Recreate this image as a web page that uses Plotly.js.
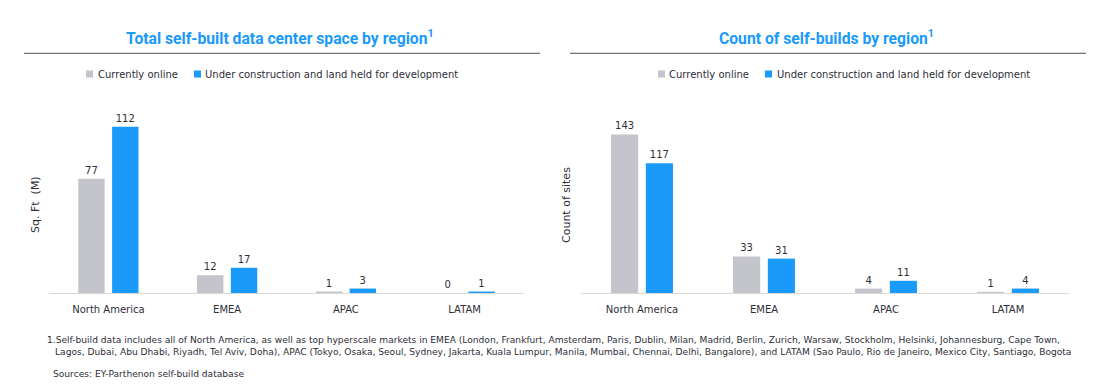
<!DOCTYPE html>
<html><head><meta charset="utf-8">
<script src="https://cdn.plot.ly/plotly-3.0.1.min.js"></script>
<style>html,body{margin:0;padding:0;background:#fff}</style>
</head><body><div id="chart" style="width:1110px;height:387px"></div>
<script>
const regions = ["North America", "EMEA", "APAC", "LATAM"];
const seriesNames = ["Currently online", "Under construction and land held for development"];
const spaceOnline = [77, 12, 1, 0];
const spaceDev = [112, 17, 3, 1];
const countOnline = [143, 33, 4, 1];
const countDev = [117, 31, 11, 4];
const leftTitle = "Total self-built data center space by region<sup>1</sup>";
const rightTitle = "Count of self-builds by region<sup>1</sup>";
const leftYTitle = "Sq. Ft  (M)";
const rightYTitle = "Count of sites";
const footLine1 = "1.Self-build data includes all of North America, as well as top hyperscale markets in EMEA (London, Frankfurt, Amsterdam, Paris, Dublin, Milan, Madrid, Berlin, Zurich, Warsaw, Stockholm, Helsinki, Johannesburg, Cape Town,";
const footLine2 = "Lagos, Dubai, Abu Dhabi, Riyadh, Tel Aviv, Doha), APAC (Tokyo, Osaka, Seoul, Sydney, Jakarta, Kuala Lumpur, Manila, Mumbai, Chennai, Delhi, Bangalore), and LATAM (Sao Paulo, Rio de Janeiro, Mexico City, Santiago, Bogota";
const sourceText = "Sources: EY-Parthenon self-build database";

const GREY = "#c4c4cd", BLUE = "#1a9afa", TXT = "#2e2e38", FONT = "DejaVu Sans";
const W = 1110, H = 387;
const px = v => v / W, py = v => (H - v) / H;

function bar(x, y, name, color, xa, ya) {
  return {type: "bar", x, y, name, xaxis: xa, yaxis: ya, showlegend: false,
    marker: {color}, texttemplate: "%{y}", textposition: "outside", cliponaxis: false,
    constraintext: "none", textfont: {family: FONT, size: 10, color: TXT}, hoverinfo: "skip"};
}
const data = [
  bar(regions, spaceOnline, seriesNames[0], GREY, "x", "y"),
  bar(regions, spaceDev, seriesNames[1], BLUE, "x", "y"),
  bar(regions, countOnline, seriesNames[0], GREY, "x2", "y2"),
  bar(regions, countDev, seriesNames[1], BLUE, "x2", "y2")
];
const xbase = {type: "category", showline: true, linecolor: "#d9d9d9", linewidth: 1, ticks: "",
  showgrid: false, zeroline: false, tickfont: {family: FONT, size: 10, color: TXT}, fixedrange: true,
  ticklabelstandoff: 7};
const ybase = {showticklabels: false, showgrid: false, zeroline: false, showline: false, ticks: "", fixedrange: true,
  domain: [py(293), py(100)]};

function legendItems(x0, textX0, x1, textX1) {
  const cy = 74, s = 7;
  const shapes = [
    {type: "rect", xref: "paper", yref: "paper", x0: px(x0), x1: px(x0 + s), y0: py(cy + s / 2), y1: py(cy - s / 2), fillcolor: GREY, line: {width: 0}},
    {type: "rect", xref: "paper", yref: "paper", x0: px(x1), x1: px(x1 + s), y0: py(cy + s / 2), y1: py(cy - s / 2), fillcolor: BLUE, line: {width: 0}}
  ];
  const anns = [
    {text: seriesNames[0], xref: "paper", yref: "paper", x: px(textX0), y: py(cy), xanchor: "left", yanchor: "middle", showarrow: false,
      font: {family: FONT, size: 10, color: TXT}},
    {text: seriesNames[1], xref: "paper", yref: "paper", x: px(textX1), y: py(cy), xanchor: "left", yanchor: "middle", showarrow: false,
      font: {family: FONT, size: 10, color: TXT}}
  ];
  return {shapes, anns};
}
const lg1 = legendItems(86, 96, 194, 203);
const lg2 = legendItems(658, 667, 765, 775);

function ann(text, x, y, xanchor, font, extra) {
  return Object.assign({text, xref: "paper", yref: "paper", x: px(x), y: py(y), xanchor, yanchor: "middle", showarrow: false, font}, extra || {});
}
const titleFont = {family: "Roboto", size: 15.7, color: BLUE};
const footFont = {family: FONT, size: 9.1, color: TXT};
const yTitleFont = {family: FONT, size: 11, color: TXT};

const layout = {
  width: W, height: H, margin: {l: 0, r: 0, t: 0, b: 0}, paper_bgcolor: "#fff", plot_bgcolor: "#fff",
  showlegend: false,
  barmode: "group", bargap: 0.43, bargroupgap: 0.22,
  xaxis: Object.assign({}, xbase, {domain: [px(49), px(524)], anchor: "y"}),
  yaxis: Object.assign({}, ybase, {range: [0, 130], anchor: "x"}),
  xaxis2: Object.assign({}, xbase, {domain: [px(581), px(1069)], anchor: "y2"}),
  yaxis2: Object.assign({}, ybase, {range: [0, 174], anchor: "x2"}),
  shapes: [
    {type: "line", xref: "paper", yref: "paper", x0: px(24), x1: px(540), y0: py(53.3), y1: py(53.3), line: {color: "#747480", width: 1.2}},
    {type: "line", xref: "paper", yref: "paper", x0: px(570), x1: px(1086), y0: py(53.3), y1: py(53.3), line: {color: "#747480", width: 1.2}}
  ].concat(lg1.shapes, lg2.shapes),
  annotations: [
    ann("<b>" + leftTitle + "</b>", 280.5, 37, "center", titleFont),
    ann("<b>" + rightTitle + "</b>", 826.5, 37, "center", titleFont),
    ann(leftYTitle, 35, 205, "center", yTitleFont, {textangle: -90}),
    ann(rightYTitle, 566, 205, "center", yTitleFont, {textangle: -90}),
    ann(footLine1, 45, 340, "left", footFont),
    ann(footLine2, 53, 352, "left", footFont),
    ann(sourceText, 51, 374, "left", footFont)
  ].concat(lg1.anns, lg2.anns)
};
Plotly.newPlot("chart", data, layout, {staticPlot: true, displayModeBar: false});
</script></body></html>
